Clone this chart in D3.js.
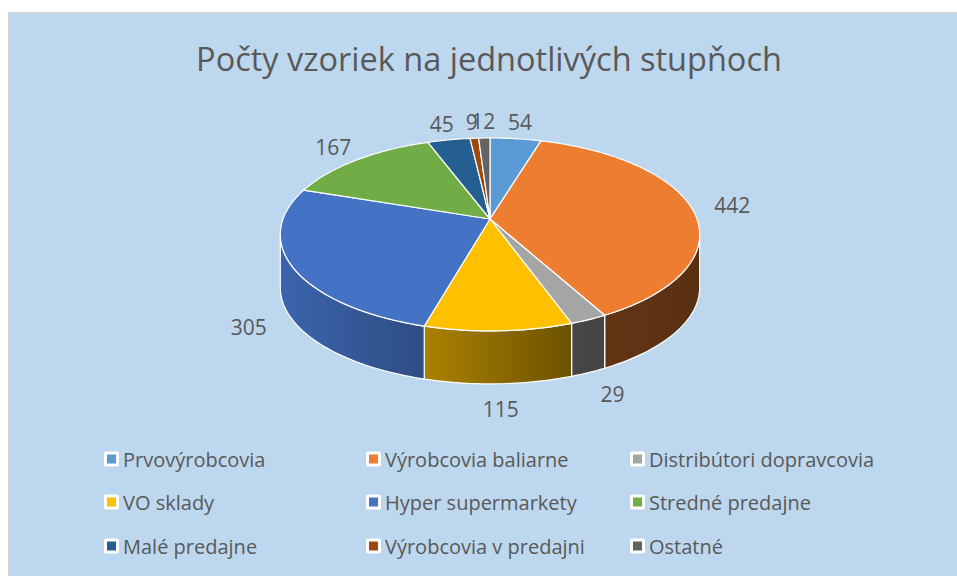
<!DOCTYPE html>
<html><head><meta charset="utf-8">
<script src="https://cdn.jsdelivr.net/npm/d3@7"></script>
<style>body{margin:0;background:#fff}svg{display:block}</style>
</head><body>
<svg id="c" width="957" height="576"></svg>
<script>
const title = "Počty vzoriek na jednotlivých stupňoch";
const categories = ["Prvovýrobcovia","Výrobcovia baliarne","Distribútori dopravcovia","VO sklady","Hyper supermarkety","Stredné predajne","Malé predajne","Výrobcovia v predajni","Ostatné"];
const values = [54,442,29,115,305,167,45,9,12];
const colors = ["#5B9BD5","#ED7D31","#A5A5A5","#FFC000","#4472C4","#70AD47","#255E91","#9E480E","#636363"];

const svg = d3.select("#c");
const FONT = "'Open Sans', 'Noto Sans', sans-serif";
svg.append("rect").attr("x",9).attr("y",13).attr("width",960).attr("height",580)
  .attr("fill","#BDD7EE").attr("stroke","#D3D3D3").attr("stroke-width",2);

svg.append("text").attr("x",489).attr("y",71).attr("text-anchor","middle")
  .attr("font-family",FONT).attr("font-size",32.5).attr("fill","#595959").text(title);

// pseudo-3D perspective projection of a tilted disc
const cx=490, cy=219, RX=207, A=94, K=0.16, DEPTH=53;
function proj(a, r){
  const x3 = r*Math.sin(a), s3 = -r*Math.cos(a), d = 1 - K*s3;
  return [cx + RX*x3/d, cy + A*s3/d, s3];
}
const pie = d3.pie().sort(null).value(d=>d);
const arcs = pie(values);

function samples(a0,a1){
  const n = Math.max(2, Math.ceil((a1-a0)/0.02));
  return d3.range(n+1).map(i=>a0+(a1-a0)*i/n);
}
const defs = svg.append("defs");
const shade = [[0,0.88],[0.33,0.68],[0.69,0.43],[1,0.38]];
colors.forEach((c,i)=>{
  const g = defs.append("linearGradient").attr("id","g"+i)
    .attr("gradientUnits","userSpaceOnUse").attr("x1",cx-RX).attr("x2",cx+RX).attr("y1",0).attr("y2",0);
  const rgb = d3.rgb(c);
  shade.forEach(([o,f])=>g.append("stop").attr("offset",o)
    .attr("stop-color",d3.rgb(rgb.r*f,rgb.g*f,rgb.b*f).formatHex()));
});

const visL = Math.acos(-K), visR = 2*Math.PI - Math.acos(-K);
const line = d3.line();
const gw = svg.append("g");
arcs.forEach((d,i)=>{
  const a0 = Math.max(d.startAngle, visL), a1 = Math.min(d.endAngle, visR);
  if (a1 <= a0) return;
  const top = samples(a0,a1).map(a=>proj(a,1));
  const pts = top.map(p=>[p[0],p[1]]).concat(top.slice().reverse().map(p=>[p[0],p[1]+DEPTH]));
  gw.append("path").attr("d", line(pts)+"Z").attr("fill","url(#g"+i+")")
    .attr("stroke","#fff").attr("stroke-width",1.2).attr("stroke-linejoin","round");
});
const gt = svg.append("g");
arcs.forEach((d,i)=>{
  const pts = [[cx,cy]].concat(samples(d.startAngle,d.endAngle).map(a=>{const p=proj(a,1);return [p[0],p[1]];}));
  gt.append("path").attr("d", line(pts)+"Z").attr("fill",colors[i])
    .attr("stroke","#fff").attr("stroke-width",1.2).attr("stroke-linejoin","round");
});

// data labels
arcs.forEach((d,i)=>{
  const m = (d.startAngle+d.endAngle)/2;
  const p = proj(m,1.2);
  svg.append("text").attr("x",p[0]).attr("y",p[1] - 3 + (p[2]>0?DEPTH:0))
    .attr("text-anchor","middle").attr("dominant-baseline","central")
    .attr("font-family",FONT).attr("font-size",21).attr("fill","#595959").text(values[i]);
});

// legend
const colX = [107,369,633], rowY = [459,502,546];
categories.forEach((c,i)=>{
  const x = colX[i%3], y = rowY[Math.floor(i/3)];
  svg.append("rect").attr("x",x-3).attr("y",y-7.5).attr("width",15).attr("height",15).attr("rx",2).attr("fill","#fff");
  svg.append("rect").attr("x",x).attr("y",y-4.5).attr("width",9).attr("height",9).attr("fill",colors[i]);
  svg.append("text").attr("x",x+16).attr("y",y).attr("dominant-baseline","central")
    .attr("font-family",FONT).attr("font-size",20).attr("fill","#595959").text(c);
});
</script>
</body></html>
